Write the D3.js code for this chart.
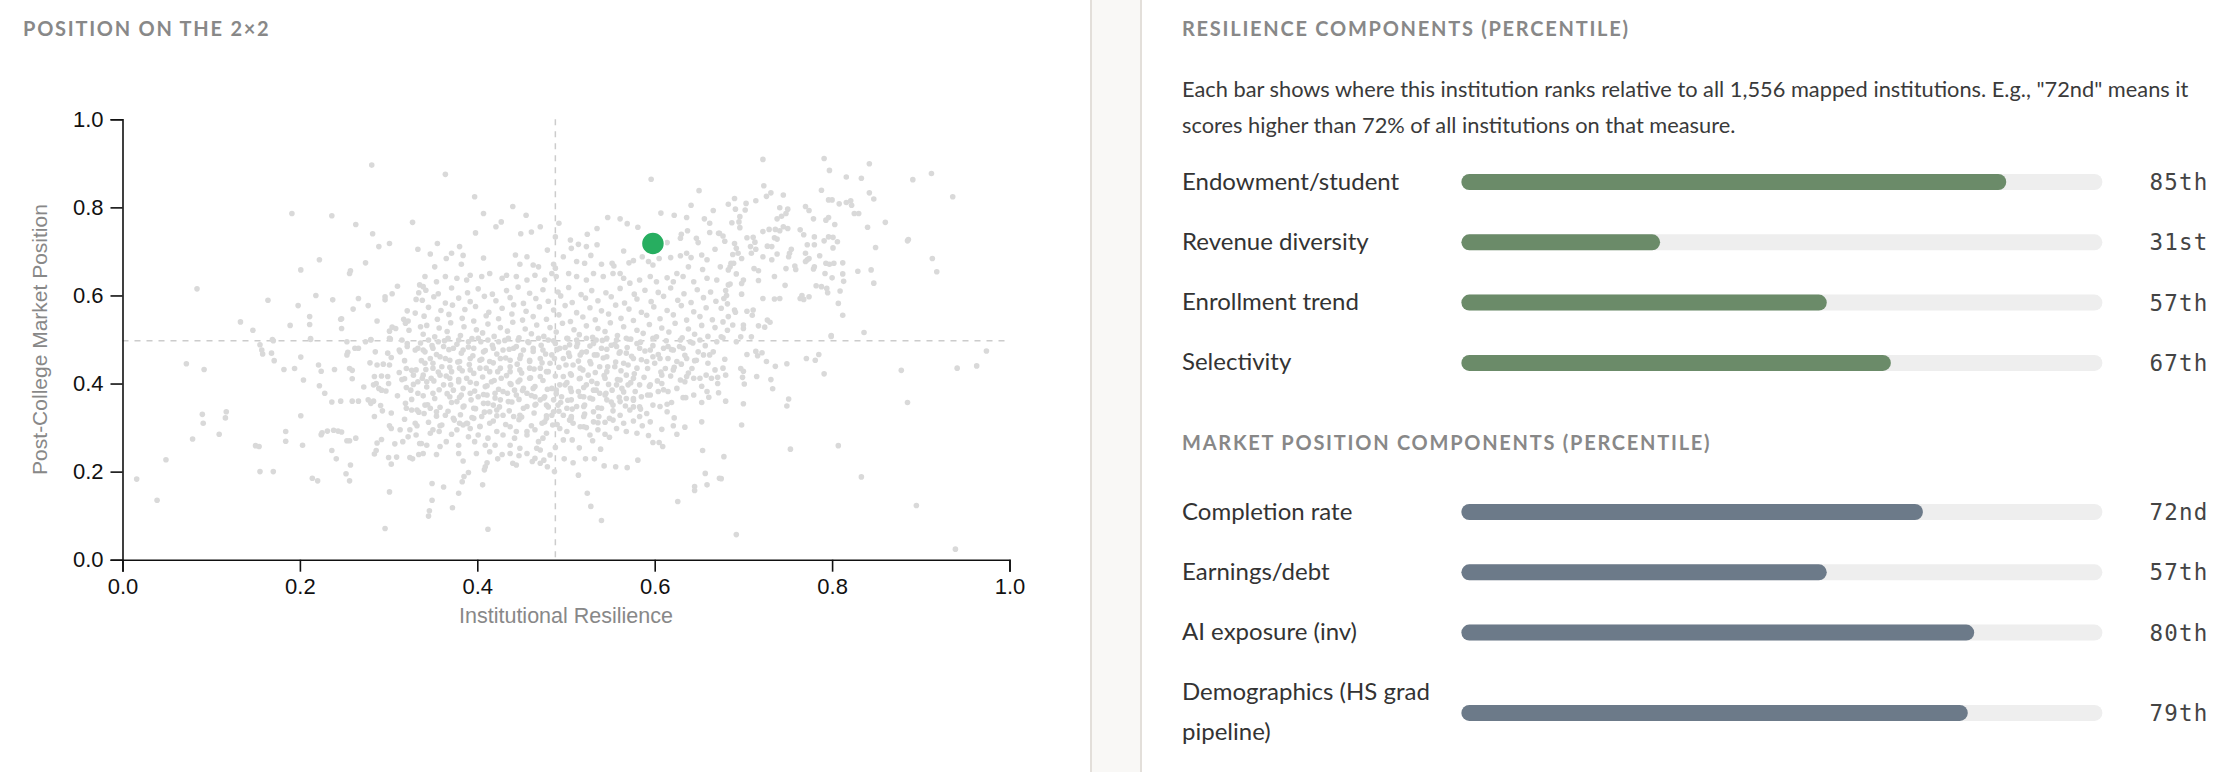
<!DOCTYPE html>
<html><head><meta charset="utf-8">
<script src="https://cdn.jsdelivr.net/npm/d3@7/dist/d3.min.js"></script>
<style>html,body{margin:0;padding:0;background:#fff}svg{display:block}</style>
</head><body>
<svg id="chart" width="2240" height="772"></svg>
<script>
// ---------- DATA ----------
const xTickValues = [0, 0.2, 0.4, 0.6, 0.8, 1.0];
const yTickValues = [0, 0.2, 0.4, 0.6, 0.8, 1.0];
const medianResilience = 0.488;
const medianMarket = 0.497;
const highlight = [0.598, 0.718];
const peers = [
[.281,.896],[.191,.786],[.236,.781],[.263,.761],[.327,.766],[.282,.740],[.289,.711],[.301,.718],[.333,.705],[.222,.681],[.274,.674],[.201,.658],[.256,.650],[.257,.656],[.084,.615],[.310,.621],[.335,.624],[.218,.600],[.237,.590],[.164,.589],[.198,.577],[.266,.593],[.277,.577],[.296,.597],[.296,.590],[.304,.604],[.334,.606],[.331,.591],[.260,.569],[.321,.565],[.330,.560],[.211,.552],[.247,.547],[.246,.546],[.133,.540],[.189,.532],[.211,.534],[.287,.542],[.317,.546],[.322,.542],[.319,.537],[.147,.521],[.247,.525],[.304,.528],[.301,.519],[.308,.525],[.323,.521],[.336,.529],[.212,.502],[.301,.503],[.169,.500],[.280,.500],
[.170,.497],[.212,.500],[.155,.488],[.157,.476],[.158,.467],[.168,.469],[.171,.452],[.201,.460],[.182,.432],[.194,.434],[.204,.408],[.072,.445],[.092,.432],[.221,.442],[.224,.428],[.239,.432],[.222,.395],[.228,.378],[.236,.358],[.246,.360],[.259,.360],[.266,.360],[.253,.495],[.253,.465],[.254,.471],[.262,.480],[.266,.480],[.274,.495],[.280,.499],[.302,.501],[.315,.499],[.321,.491],[.321,.484],[.330,.476],[.333,.480],[.313,.472],[.312,.476],[.285,.472],[.299,.469],[.303,.459],[.279,.447],[.287,.442],[.294,.444],[.301,.442],[.256,.434],[.259,.430],[.259,.411],[.272,.392],[.284,.416],[.292,.417],[.299,.416],[.286,.400],[.283,.397],[.289,.389],[.297,.383],[.292,.385],[.300,.400],[.312,.425],[.318,.411],[.315,.409],[.318,.452],[.320,.434],[.326,.430],[.331,.431],[.328,.419],[.320,.391],[.325,.385],[.333,.378],[.333,.404],[.328,.398],[.310,.372],[.326,.364],[.277,.363],[.280,.355],[.283,.360],[.291,.350],[.293,.338],[.303,.333],[.319,.355],[.320,.344],[.326,.340],[.332,.340],[.334,.335],[.284,.325],[.318,.319],[.330,.310],[.332,.304],[.301,.304],[.303,.298],[.313,.295],[.324,.295],[.322,.279],[.331,.283],[.316,.268],[.307,.263],[.292,.273],[.287,.265],[.286,.248],[.284,.240],[.300,.232],[.309,.233],[.303,.217],[.324,.232],[.327,.229],[.334,.239],[.337,.264],[.090,.330],[.091,.310],[.117,.336],[.116,.322],[.109,.285],[.079,.274],[.049,.227],[.016,.183],[.039,.135],[.150,.259],[.154,.257],[.155,.200],[.170,.200],[.184,.291],[.184,.269],[.201,.327],[.203,.260],[.214,.185],[.220,.179],[.224,.284],[.225,.288],[.231,.292],[.238,.294],[.243,.292],[.247,.290],[.253,.270],[.256,.270],[.263,.276],[.236,.248],[.241,.229],[.257,.215],[.252,.195],[.256,.179],[.301,.154],[.296,.071],
[.722,.909],[.791,.911],[.797,.884],[.842,.899],[.816,.869],[.833,.866],[.891,.863],[.912,.877],[.936,.824],[.723,.849],[.726,.825],[.731,.833],[.745,.828],[.788,.839],[.842,.833],[.847,.819],[.796,.817],[.800,.817],[.808,.808],[.816,.811],[.821,.815],[.822,.805],[.825,.786],[.830,.786],[.690,.820],[.683,.807],[.691,.796],[.703,.809],[.714,.815],[.702,.794],[.741,.799],[.750,.796],[.748,.786],[.770,.802],[.774,.793],[.696,.779],[.695,.767],[.687,.765],[.696,.754],[.738,.774],[.743,.780],[.779,.774],[.793,.771],[.796,.777],[.803,.761],[.840,.755],[.860,.766],[.722,.745],[.729,.750],[.736,.750],[.741,.747],[.745,.756],[.750,.752],[.764,.749],[.768,.738],[.673,.741],[.677,.735],[.679,.723],[.704,.731],[.711,.732],[.713,.721],[.690,.718],[.692,.707],[.708,.711],[.714,.705],[.727,.712],[.732,.711],[.735,.731],[.738,.728],[.780,.733],[.772,.715],[.780,.715],[.796,.733],[.801,.732],[.806,.722],[.791,.724],[.801,.708],[.849,.709],[.885,.724],[.886,.727],[.688,.693],[.694,.696],[.698,.684],[.709,.696],[.722,.688],[.732,.681],[.738,.694],[.752,.696],[.754,.705],[.751,.688],[.770,.696],[.772,.681],[.770,.677],[.774,.684],[.786,.690],[.674,.665],[.686,.673],[.685,.665],[.689,.673],[.683,.658],[.712,.661],[.717,.656],[.748,.661],[.758,.667],[.759,.659],[.780,.665],[.779,.660],[.793,.673],[.797,.671],[.802,.673],[.812,.674],[.829,.655],[.844,.658],[.913,.684],[.918,.654],[.692,.649],[.792,.650],[.800,.640],[.812,.649],[.813,.632],[.847,.628],[.717,.634],[.735,.643],[.747,.623],[.782,.622],[.788,.620],[.794,.616],[.795,.606],[.809,.610],[.683,.624],[.685,.626],[.700,.635],[.698,.627],[.680,.611],[.681,.600],[.698,.603],[.678,.593],[.722,.593],[.735,.592],[.741,.593],[.764,.593],[.766,.600],[.768,.591],[.774,.597],[.807,.582],[.812,.555],[.682,.581],[.675,.571],[.690,.567],[.691,.562],[.704,.564],[.711,.567],[.710,.555],[.683,.552],[.677,.540],[.688,.533],[.700,.533],[.700,.525],[.717,.531],[.727,.544],[.730,.539],[.724,.528],[.682,.521],[.675,.506],[.697,.506],[.709,.506],[.799,.509],[.836,.516],
[.677,.504],[.692,.495],[.799,.507],[.679,.455],[.677,.435],[.671,.414],[.680,.419],[.704,.466],[.714,.473],[.716,.463],[.721,.470],[.726,.450],[.736,.439],[.749,.445],[.771,.457],[.781,.453],[.785,.466],[.791,.422],[.697,.434],[.700,.428],[.699,.414],[.701,.399],[.715,.416],[.731,.409],[.733,.388],[.672,.379],[.680,.360],[.700,.354],[.751,.365],[.749,.349],[.698,.306],[.678,.234],[.675,.184],[.753,.251],[.807,.259],[.833,.188],[.692,.057],[.878,.430],[.885,.357],[.941,.435],[.963,.440],[.974,.474],[.895,.123],[.939,.024],
[.364,.875],[.397,.824],[.407,.786],[.440,.802],[.455,.782],[.427,.767],[.421,.756],[.471,.756],[.461,.744],[.449,.740],[.398,.742],[.492,.764],[.488,.733],[.596,.864],[.650,.838],[.666,.793],[.641,.805],[.607,.787],[.622,.782],[.636,.777],[.656,.774],[.662,.764],[.547,.777],[.561,.774],[.569,.763],[.581,.755],[.535,.752],[.524,.739],[.505,.726],[.514,.716],[.523,.711],[.535,.715],[.565,.701],[.614,.720],[.630,.739],[.637,.747],[.629,.730],[.647,.730],[.649,.720],[.662,.743],[.672,.741],[.355,.718],[.380,.711],[.371,.696],[.365,.684],[.347,.694],[.384,.691],[.407,.685],[.443,.692],[.456,.688],[.479,.703],[.382,.671],[.352,.665],[.448,.671],[.463,.669],[.469,.665],[.486,.671],[.488,.662],[.497,.688],[.506,.707],[.512,.677],[.521,.673],[.528,.691],[.540,.671],[.552,.673],[.554,.667],[.561,.650],[.571,.674],[.576,.679],[.586,.688],[.593,.677],[.598,.669],[.605,.684],[.618,.686],[.629,.690],[.636,.696],[.641,.686],[.653,.692],[.659,.681],[.668,.705],[.654,.659],[.638,.665],[.625,.650],[.614,.640],[.621,.631],[.632,.643],[.644,.631],[.659,.639],[.670,.635],[.602,.631],[.595,.643],[.583,.635],[.572,.628],[.565,.639],[.553,.650],[.542,.643],[.531,.650],[.523,.635],[.512,.643],[.503,.650],[.489,.643],[.484,.650],[.476,.635],[.465,.646],[.456,.635],[.444,.643],[.433,.646],[.428,.639],[.414,.650],[.405,.643],[.392,.646],[.388,.635],[.377,.639],[.364,.643],[.354,.631],[.341,.643],[.339,.620],
[.349,.173],[.362,.165],[.349,.135],[.346,.111],[.345,.099],[.372,.118],[.379,.151],[.383,.177],[.385,.189],[.390,.198],[.406,.170],[.412,.069],[.408,.204],[.409,.211],[.411,.220],[.384,.224],[.379,.241],[.379,.260],[.354,.239],[.339,.241],[.343,.260],[.335,.264],[.399,.241],[.423,.229],[.428,.239],[.437,.241],[.440,.219],[.444,.215],[.447,.236],[.456,.241],[.462,.223],[.471,.219],[.475,.226],[.479,.211],[.482,.238],[.487,.200],[.488,.255],[.465,.230],[.467,.253],[.471,.249],[.469,.268],[.420,.260],[.409,.260],[.412,.276],[.397,.268],[.390,.279],[.371,.285],[.347,.287],[.357,.291],[.350,.295],[.358,.304],[.384,.306],[.392,.298],[.403,.302],[.414,.310],[.437,.302],[.444,.291],[.442,.276],[.456,.291],[.465,.295],[.456,.283],[.497,.272],[.507,.272],[.515,.254],[.498,.229],[.508,.220],[.514,.192],[.522,.229],[.532,.229],[.539,.251],[.543,.213],[.556,.211],[.569,.209],[.581,.226],[.524,.151],[.528,.121],[.540,.089],[.530,.270],[.527,.283],[.523,.300],[.531,.313],[.544,.285],[.544,.312],[.549,.278],[.549,.321],[.576,.315],[.586,.304],[.595,.313],[.593,.282],[.598,.266],[.605,.266],[.609,.257],[.608,.296],[.621,.304],[.625,.285],[.634,.301],[.622,.322],[.614,.336],[.614,.353],[.619,.357],[.632,.368],[.635,.368],[.653,.313],[.654,.248],[.657,.196],[.659,.170],[.645,.166],[.645,.157],[.626,.132],[.673,.185],[.653,.357],[.661,.369],[.671,.400],[.658,.419],[.668,.431],[.655,.465],[.666,.472],[.653,.394],[.576,.347],[.583,.347],[.572,.340],[.561,.359],[.553,.351],[.565,.381],[.557,.397],[.576,.412],[.583,.397],[.595,.397],[.595,.374],[.604,.382],[.608,.400],[.615,.382],[.625,.389],[.629,.408],[.636,.416],[.642,.434],[.612,.434],[.608,.419],[.591,.450],[.598,.461],[.610,.480],[.621,.476],[.632,.480],[.640,.495],[.651,.499],[.629,.499],[.615,.484],[.580,.491],[.583,.480],[.595,.476],[.576,.457],[.565,.446],[.561,.472],[.551,.487],[.540,.480],[.531,.491],[.523,.472],[.512,.484],[.503,.469],[.493,.480],[.488,.491],[.497,.457],[.508,.442],[.516,.435],[.527,.450],[.538,.438],[.546,.427],[.555,.438],[.544,.412],[.535,.400],[.523,.397],[.514,.382],[.505,.389],[.499,.397],[.489,.385],[.484,.389],[.486,.363],[.501,.344],[.512,.348],[.520,.348],[.527,.367],[.538,.378],[.546,.363],[.531,.336],[.540,.344],[.520,.325],[.506,.325],[.504,.317],[.486,.336],[.484,.328],[.485,.306],[.478,.321],[.473,.310],[.478,.351],[.471,.363],[.476,.370],[.465,.351],[.456,.348],[.448,.328],[.441,.325],[.429,.328],[.422,.340],[.414,.336],[.405,.325],[.396,.321],[.388,.310],[.380,.310],[.373,.321],[.364,.328],[.354,.336],[.347,.344],[.341,.351],[.350,.378],[.362,.397],[.369,.370],[.377,.359],[.384,.347],[.396,.344],[.407,.355],[.418,.351],[.426,.363],[.435,.359],[.444,.374],[.456,.378],[.465,.370],[.463,.389],[.452,.389],[.442,.385],[.429,.382],[.420,.378],[.411,.374],[.401,.370],[.392,.378],[.382,.374],[.373,.385],[.343,.404],[.348,.412],[.339,.419],[.358,.419],[.369,.412],[.379,.404],[.388,.412],[.399,.400],[.409,.393],[.416,.404],[.427,.412],[.437,.400],[.448,.408],[.459,.412],[.471,.416],[.480,.427],[.471,.435],[.459,.435],[.448,.431],[.437,.427],[.426,.435],[.414,.427],[.403,.435],[.392,.431],[.380,.435],[.371,.427],[.360,.438],[.350,.435],[.341,.446],[.347,.457],[.358,.461],[.369,.453],[.380,.450],[.392,.457],[.403,.453],[.414,.450],[.426,.457],[.437,.453],[.448,.457],[.459,.450],[.471,.457],[.482,.446],[.484,.465],[.474,.476],[.463,.480],[.452,.476],[.441,.480],[.429,.476],[.418,.480],[.407,.472],[.396,.480],[.384,.476],[.373,.480],[.362,.484],[.350,.480],[.339,.476],[.345,.499],[.356,.495],[.367,.503],[.379,.499],[.390,.495],[.401,.503],[.412,.499],[.424,.495],[.435,.503],[.446,.499],[.457,.495],[.469,.503],[.480,.499],[.501,.503],[.512,.499],[.523,.503],[.534,.499],[.546,.503],[.557,.499],[.568,.503],[.598,.503],[.506,.419],[.497,.416],[.516,.412],[.525,.419],[.568,.419],[.561,.408],[.570,.397],[.552,.385],[.544,.374],[.531,.385],[.520,.370],[.506,.363],[.495,.370],[.491,.351],[.497,.328],[.585,.370],[.576,.366],[.568,.366],[.598,.351],[.606,.348],[.591,.332],[.583,.325],[.561,.328],[.553,.317],[.565,.310],[.568,.291],[.580,.287],[.557,.298],[.536,.295],[.516,.302],[.508,.310],[.501,.291],[.493,.298],[.478,.287],[.474,.276],[.429,.283],[.422,.291],[.401,.283],[.377,.295],[.365,.268],[.358,.257],[.414,.245],[.448,.253],[.437,.260],[.621,.431],[.625,.450],[.636,.457],[.647,.453],[.644,.412],[.651,.412],[.659,.382],[.644,.374],[.662,.465],[.664,.412],[.670,.495],[.606,.457],[.580,.435],[.568,.469],[.546,.461],[.535,.465],[.516,.465],[.504,.488],[.557,.484],
[.342,.612],[.356,.604],[.371,.617],[.389,.606],[.401,.615],[.417,.603],[.433,.611],[.446,.619],[.459,.605],[.474,.613],[.491,.608],[.503,.618],[.517,.602],[.529,.611],[.545,.606],[.561,.616],[.577,.603],[.589,.612],[.604,.607],[.618,.617],[.633,.604],[.648,.613],[.663,.608],
[.338,.589],[.351,.597],[.364,.583],[.379,.594],[.392,.586],[.408,.598],[.421,.588],[.437,.595],[.452,.582],[.466,.593],[.480,.587],[.494,.599],[.507,.584],[.522,.594],[.536,.588],[.551,.597],[.566,.583],[.580,.592],[.596,.586],[.610,.598],[.626,.589],[.641,.584],[.655,.595],[.669,.587],
[.345,.573],[.359,.566],[.372,.578],[.386,.568],[.398,.575],[.413,.562],[.428,.571],[.441,.579],[.455,.564],[.470,.574],[.486,.567],[.499,.577],[.512,.561],[.527,.572],[.540,.565],[.556,.578],[.571,.569],[.585,.562],[.599,.574],[.614,.566],[.630,.577],[.644,.563],[.658,.572],
[.340,.553],[.355,.546],[.368,.557],[.383,.548],[.396,.542],[.410,.554],[.424,.547],[.439,.558],[.451,.544],[.463,.552],[.478,.546],[.492,.556],[.505,.541],[.519,.551],[.533,.545],[.548,.558],[.562,.548],[.576,.543],[.591,.555],[.606,.547],[.621,.556],[.636,.544],[.651,.552],[.665,.545],
[.343,.532],[.357,.526],[.370,.538],[.385,.529],[.399,.522],[.412,.535],[.426,.527],[.440,.539],[.454,.524],[.467,.533],[.482,.527],[.496,.537],[.509,.522],[.523,.531],[.536,.525],[.550,.538],[.565,.529],[.580,.521],[.594,.534],[.608,.526],[.623,.537],[.638,.524],[.653,.532],[.668,.527],
[.339,.512],[.352,.506],[.366,.518],[.381,.509],[.394,.502],[.406,.515],[.419,.507],[.434,.519],[.447,.504],[.461,.513],[.475,.507],[.489,.517],[.502,.502],[.515,.511],[.530,.505],[.544,.518],[.558,.509],[.573,.501],[.587,.514],[.602,.506],[.616,.517],[.631,.504],[.645,.512],[.660,.507],
[.336,.492],[.349,.486],[.363,.497],[.377,.489],[.390,.483],[.404,.495],[.417,.487],[.431,.498],[.444,.484],[.458,.493],[.472,.487],[.486,.497],[.499,.482],[.513,.491],[.527,.485],[.541,.498],[.555,.489],[.569,.482],[.584,.494],[.598,.486],[.613,.497],[.628,.484],[.643,.492],[.657,.486],
[.341,.472],[.354,.466],[.368,.477],[.382,.469],[.395,.463],[.409,.475],[.422,.467],[.436,.478],[.449,.464],[.463,.473],[.477,.467],[.490,.477],[.504,.462],[.518,.471],[.532,.465],[.546,.478],[.560,.469],[.574,.462],[.589,.474],[.604,.466],[.619,.477],[.634,.464],[.649,.472],
[.337,.452],[.350,.446],[.364,.457],[.378,.449],[.391,.443],[.405,.455],[.418,.447],[.432,.458],[.445,.444],[.459,.453],[.473,.447],[.487,.457],[.500,.442],[.514,.451],[.528,.445],[.542,.458],[.556,.449],[.570,.442],[.585,.454],[.600,.446],[.615,.457],[.630,.444],[.645,.452],[.660,.446],
[.342,.432],[.356,.426],[.369,.437],[.383,.429],[.396,.423],[.410,.435],[.423,.427],[.437,.438],[.450,.424],[.464,.433],[.478,.427],[.492,.437],[.505,.422],[.519,.431],[.533,.425],[.547,.438],[.562,.429],[.577,.422],[.592,.434],[.607,.426],[.622,.437],[.638,.424],
[.338,.412],[.351,.406],[.365,.417],[.379,.409],[.392,.403],[.406,.415],[.419,.407],[.433,.418],[.446,.404],[.460,.413],[.474,.407],[.488,.417],[.501,.402],[.515,.411],[.529,.405],[.543,.418],[.558,.409],[.573,.402],[.588,.414],[.603,.406],[.618,.417],[.634,.404],
[.343,.392],[.357,.386],[.370,.397],[.384,.389],[.397,.383],[.411,.395],[.424,.387],[.438,.398],[.451,.384],[.465,.393],[.479,.387],[.493,.397],[.506,.382],[.520,.391],[.534,.385],[.548,.398],[.563,.389],[.578,.382],[.594,.394],[.610,.386],
[.339,.372],[.352,.366],[.366,.377],[.380,.369],[.393,.363],[.407,.375],[.420,.367],[.434,.378],[.447,.364],[.461,.373],[.475,.367],[.489,.377],[.502,.362],[.516,.371],[.530,.365],[.545,.378],[.560,.369],[.576,.362],[.592,.374],
[.344,.352],[.358,.346],[.371,.357],[.385,.349],[.398,.343],[.412,.355],[.425,.347],[.439,.358],[.452,.344],[.466,.353],[.480,.347],[.494,.357],[.507,.342],[.521,.351],[.536,.345],[.551,.358],[.567,.349],[.584,.342],
[.340,.332],[.354,.326],[.367,.337],[.381,.329],[.394,.323],[.408,.335],[.422,.327],[.436,.338],[.450,.324],[.464,.333],[.478,.327],[.492,.337],[.506,.322],[.521,.331],[.537,.325],[.553,.338],
[.345,.312],[.360,.306],[.374,.317],[.389,.309],[.403,.303],[.418,.315],[.432,.307],[.447,.318],[.461,.304],[.476,.313],[.490,.307],[.505,.317],[.520,.302],[.536,.311]
];
const resilienceLabels = ["Endowment/student", "Revenue diversity", "Enrollment trend", "Selectivity"];
const resilienceValues = [85, 31, 57, 67];
const resilienceRanks = ["85th", "31st", "57th", "67th"];
const marketLabels = ["Completion rate", "Earnings/debt", "AI exposure (inv)", "Demographics (HS grad pipeline)"];
const marketValues = [72, 57, 80, 79];
const marketRanks = ["72nd", "57th", "80th", "79th"];
const descriptionLines = [
  'Each bar shows where this institution ranks relative to all 1,556 mapped institutions. E.g., "72nd" means it',
  'scores higher than 72% of all institutions on that measure.'
];

// ---------- DRAW ----------
const svg = d3.select("#chart");
const UI = "Lato, 'Open Sans', sans-serif";
const AX = "'Liberation Sans', Arial, Helvetica, sans-serif";
const MONO = "'DejaVu Sans Mono', monospace";

svg.append("rect").attr("width", 2240).attr("height", 772).attr("fill", "#fff");
// gutter between panels
svg.append("rect").attr("x", 1091).attr("y", 0).attr("width", 50).attr("height", 772).attr("fill", "#f9f8f6");
[1091, 1141].forEach(xx => svg.append("line").attr("x1", xx).attr("x2", xx).attr("y1", 0).attr("y2", 772)
  .attr("stroke", "#e3dfda").attr("stroke-width", 2));

function sectionTitle(x, y, t) {
  svg.append("text").attr("x", x).attr("y", y).text(t)
    .attr("font-family", UI).attr("font-weight", 700).attr("font-size", 20)
    .attr("letter-spacing", 1.75).attr("fill", "#888888");
}

// ----- Scatter -----
sectionTitle(23, 36, "POSITION ON THE 2×2");
const x = d3.scaleLinear().domain([0, 1]).range([122.5, 1009.5]);
const y = d3.scaleLinear().domain([0, 1]).range([559.7, 119.3]);
const plot = svg.append("g");

plot.append("line").attr("x1", x(medianResilience)).attr("x2", x(medianResilience))
  .attr("y1", y(1)).attr("y2", y(0)).attr("stroke", "#cccccc").attr("stroke-width", 1.5).attr("stroke-dasharray", "6,6");
plot.append("line").attr("x1", x(0)).attr("x2", x(1))
  .attr("y1", y(medianMarket)).attr("y2", y(medianMarket)).attr("stroke", "#cccccc").attr("stroke-width", 1.5).attr("stroke-dasharray", "6,6");

plot.append("g").selectAll("circle").data(peers).join("circle")
  .attr("cx", d => x(d[0])).attr("cy", d => y(d[1])).attr("r", 2.8).attr("fill", "#d9d9d9");

const xAxis = plot.append("g").attr("transform", `translate(0,${y(0)})`)
  .call(d3.axisBottom(x).tickValues(xTickValues).tickFormat(d3.format(".1f")).tickSize(12).tickPadding(7));
const yAxis = plot.append("g").attr("transform", `translate(${x(0)},0)`)
  .call(d3.axisLeft(y).tickValues(yTickValues).tickFormat(d3.format(".1f")).tickSize(12).tickPadding(7));
[xAxis, yAxis].forEach(a => {
  a.attr("font-family", AX).attr("font-size", 22).attr("color", "#111");
  a.selectAll("path,line").attr("stroke-width", 1.6);
});

plot.append("text").attr("x", (x(0) + x(1)) / 2).attr("y", 623).attr("text-anchor", "middle")
  .attr("font-family", AX).attr("font-size", 21.5).attr("fill", "#888").text("Institutional Resilience");
plot.append("text").attr("transform", `translate(46.7,${(y(0) + y(1)) / 2}) rotate(-90)`).attr("text-anchor", "middle")
  .attr("font-family", AX).attr("font-size", 21).attr("fill", "#888").text("Post-College Market Position");

plot.append("circle").datum(highlight).attr("cx", d => x(d[0])).attr("cy", d => y(d[1])).attr("r", 11.5)
  .attr("fill", "#27ae60").attr("stroke", "#fff").attr("stroke-width", 1.5);

// ----- Right panel -----
const PX = 1182;
sectionTitle(PX, 36, "RESILIENCE COMPONENTS (PERCENTILE)");
svg.append("g").selectAll("text").data(descriptionLines).join("text")
  .attr("x", PX).attr("y", (d, i) => 96.7 + i * 36.6)
  .attr("font-family", UI).attr("font-size", 21.8).attr("fill", "#3a3a3a").text(d => d);

const barX = 1461.4, barW = 641, barH = 16;
const bx = d3.scaleLinear().domain([0, 100]).range([0, barW]);
const labelMax = 262, lineH = 40, rowGap = 20.3;

// size the row labels so that "Endowment/student" spans ~221px, as in the reference
const probe = svg.append("text").attr("font-family", UI).attr("font-size", 20).text(resilienceLabels[0]);
const labelSize = Math.min(24, Math.max(20, 20 * 221 / probe.node().getComputedTextLength()));
probe.remove();

function wrap(text, size) {
  const t = svg.append("text").attr("font-family", UI).attr("font-size", size);
  const words = text.split(" "), lines = [];
  let cur = "";
  words.forEach(w => {
    const test = cur ? cur + " " + w : w;
    t.text(test);
    if (t.node().getComputedTextLength() > labelMax && cur) { lines.push(cur); cur = w; }
    else cur = test;
  });
  lines.push(cur);
  t.remove();
  return lines;
}

function barSection(top, labels, values, ranks, color) {
  const rows = labels.map((l, i) => ({ lines: wrap(l, labelSize), v: values[i], r: ranks[i] }));
  let acc = top;
  rows.forEach(r => { const h = r.lines.length * lineH + rowGap; r.c = acc + h / 2; acc += h; });
  const g = svg.append("g");
  const row = g.selectAll("g").data(rows).join("g");
  row.append("text").attr("font-family", UI).attr("font-size", labelSize).attr("fill", "#333")
    .selectAll("tspan").data(d => d.lines.map((s, k) => ({ s, y: d.c - (d.lines.length - 1) / 2 * lineH + k * lineH + 7.5 })))
    .join("tspan").attr("x", PX).attr("y", d => d.y).text(d => d.s);
  row.append("rect").attr("x", barX).attr("y", d => d.c - barH / 2).attr("width", barW).attr("height", barH)
    .attr("rx", barH / 2).attr("fill", "#eeeeee");
  row.append("rect").attr("x", barX).attr("y", d => d.c - barH / 2).attr("width", d => bx(d.v)).attr("height", barH)
    .attr("rx", barH / 2).attr("fill", color);
  row.append("text").attr("x", 2208.6).attr("y", d => d.c + 8).attr("text-anchor", "end")
    .attr("font-family", MONO).attr("font-size", 22.5).attr("letter-spacing", 1.2).attr("fill", "#444").text(d => d.r);
}

barSection(151.85, resilienceLabels, resilienceValues, resilienceRanks, "#6b8b69");
sectionTitle(PX, 449.7, "MARKET POSITION COMPONENTS (PERCENTILE)");
barSection(481.85, marketLabels, marketValues, marketRanks, "#6c7a89");
</script>
</body></html>
